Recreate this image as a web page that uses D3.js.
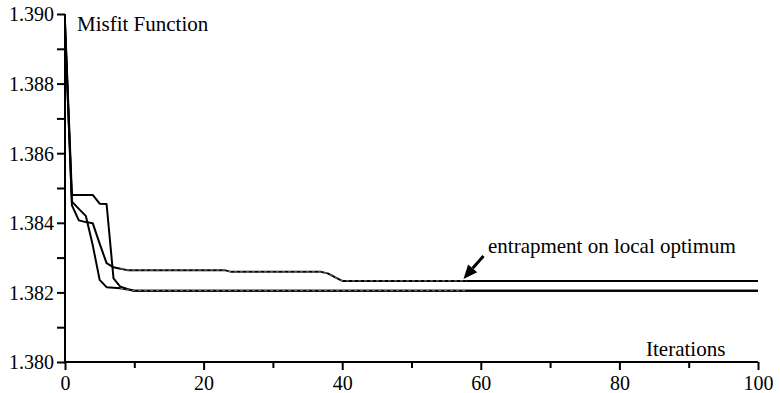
<!DOCTYPE html>
<html>
<head>
<meta charset="utf-8">
<script src="https://cdn.jsdelivr.net/npm/d3@7"></script>
<style>
  html, body { margin: 0; padding: 0; background: #fff; }
  svg { display: block; }
  text { font-family: "Liberation Serif", "Times New Roman", serif; fill: #000; }
</style>
</head>
<body>
<svg id="chart" width="780" height="393"></svg>
<script>
// ---- data ----
const xTicksMajor = [0, 20, 40, 60, 80, 100];
const xTicksMinor = [10, 30, 50, 70, 90];
const yTicksMajor = [1.380, 1.382, 1.384, 1.386, 1.388, 1.390];
const yTicksMinor = [1.381, 1.383, 1.385, 1.387, 1.389];

// Series A: early plateau at ~1.3848, converges to global optimum
const iterA = [0, 1, 4, 5, 6, 7, 8, 9, 10, 100];
const valA  = [1.3898, 1.3848, 1.3848, 1.38455, 1.38454, 1.3824, 1.38216, 1.3821, 1.38205, 1.38205];

// Series B: fast convergence to global optimum
const iterB = [0, 1, 2, 3, 4, 5, 6, 8, 9, 10, 100];
const valB  = [1.3896, 1.38461, 1.3844, 1.3842, 1.38336, 1.38236, 1.38215, 1.38212, 1.38208, 1.38205, 1.38205];

// Series C: trapped on local optimum
const iterC = [0, 1, 2, 3, 4, 5, 6, 7, 8, 9, 23, 24, 37, 38, 39, 40, 100];
const valC  = [1.3897, 1.3845, 1.38407, 1.38402, 1.38399, 1.3834, 1.38284, 1.38272, 1.38268, 1.38264,
               1.38264, 1.38259, 1.38259, 1.38254, 1.38243, 1.38233, 1.38233];

const annotation = { text: "entrapment on local optimum", iter: 57.5, value: 1.38233 };
const yLabel = "Misfit Function";
const xLabel = "Iterations";

// ---- layout ----
const svg = d3.select("#chart");
const x = d3.scaleLinear().domain([0, 100]).range([65, 758]);
const y = d3.scaleLinear().domain([1.380, 1.390]).range([362, 14]);

const toPts = (it, v) => it.map((d, i) => [d, v[i]]);
const seriesList = [toPts(iterA, valA), toPts(iterB, valB), toPts(iterC, valC)];

const line = d3.line().x(d => x(d[0])).y(d => y(d[1]));

// lines
svg.append("g").selectAll("path").data(seriesList).join("path")
  .attr("d", line)
  .attr("fill", "none")
  .attr("stroke", "#000")
  .attr("stroke-width", 2)
  .attr("stroke-linejoin", "round");

// faint dotted look where converged lines overlap in the reference
const overlay = seriesList.slice(1).map(s => {
  const pts = s.filter(d => d[0] >= 8 && d[0] <= 40);
  const last = pts[pts.length - 1];
  return pts.concat([[58, last[1]]]);
});
svg.append("g").selectAll("path").data(overlay).join("path")
  .attr("d", line)
  .attr("fill", "none")
  .attr("stroke", "#fff")
  .attr("stroke-opacity", 0.55)
  .attr("stroke-width", 0.9)
  .attr("stroke-dasharray", "3,3");

// axes
const axisW = 2;
const gx = svg.append("g").attr("transform", `translate(0,${y(1.380)})`);
gx.call(d3.axisBottom(x).tickValues(xTicksMajor).tickSize(8).tickFormat(d3.format("d")));
gx.append("g").call(d3.axisBottom(x).tickValues(xTicksMinor).tickSize(6).tickFormat(""));
gx.selectAll(".domain").attr("stroke-width", axisW).attr("d", `M${x(0)},0H${x(100)}`);
gx.selectAll(".tick line").attr("stroke-width", axisW);
gx.selectAll(".tick text").attr("font-size", 20).attr("dy", 0).attr("y", 28)
  .style("font-family", "'Liberation Serif', serif");

const gy = svg.append("g").attr("transform", `translate(${x(0)},0)`);
gy.call(d3.axisLeft(y).tickValues(yTicksMajor).tickSize(8).tickFormat(d3.format(".3f")));
gy.append("g").call(d3.axisLeft(y).tickValues(yTicksMinor).tickSize(8).tickFormat(""));
gy.selectAll(".domain").attr("stroke-width", axisW).attr("d", `M0,${y(1.390)}V${y(1.380)}`);
gy.selectAll(".tick line").attr("stroke-width", axisW);
gy.selectAll(".tick text").attr("font-size", 20).attr("x", -11).attr("dy", "0.34em")
  .style("font-family", "'Liberation Serif', serif");

// axis labels
svg.append("text").attr("x", 77).attr("y", 31).attr("font-size", 21).text(yLabel);
svg.append("text").attr("x", 646).attr("y", 356).attr("font-size", 21).text(xLabel);

// annotation arrow
const tipX = x(annotation.iter), tipY = y(annotation.value) - 2;
const tailX = tipX + 20, tailY = tipY - 23;
const ang = Math.atan2(tipY - tailY, tipX - tailX);
const headL = 14, headW = 6;
const bx = tipX - headL * Math.cos(ang), by = tipY - headL * Math.sin(ang);
svg.append("line")
  .attr("x1", tailX).attr("y1", tailY).attr("x2", bx).attr("y2", by)
  .attr("stroke", "#000").attr("stroke-width", 3);
svg.append("path")
  .attr("d", `M${tipX},${tipY}L${bx + headW * Math.sin(ang)},${by - headW * Math.cos(ang)}L${bx - headW * Math.sin(ang)},${by + headW * Math.cos(ang)}Z`)
  .attr("fill", "#000");
svg.append("text").attr("x", 488).attr("y", 253).attr("font-size", 21).text(annotation.text);
</script>
</body>
</html>
